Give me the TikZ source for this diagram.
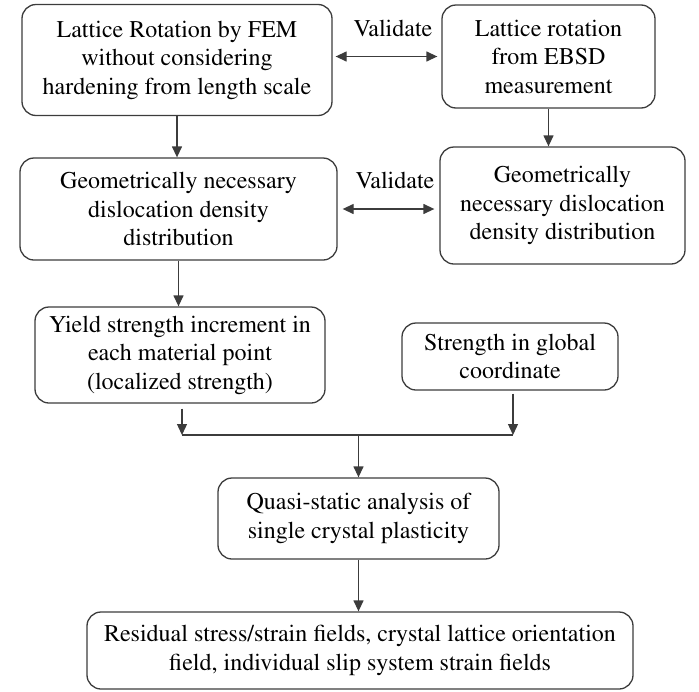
\documentclass[tikz,border=0pt]{standalone}
\usepackage[T1]{fontenc}
\usepackage{times}
\usetikzlibrary{arrows.meta}
\definecolor{inkline}{RGB}{60,60,60}

\begin{document}
\begin{tikzpicture}[x=1pt,y=-1pt,
  box/.style={draw=inkline,line width=1.3pt,rounded corners=14pt,align=center,inner sep=0pt,
    font=\fontsize{24}{28.5}\selectfont},
  lab/.style={font=\fontsize{24}{28.5}\selectfont,inner sep=0pt},
  flow/.style={inkline,line width=1.3pt,-{Triangle[length=11pt,width=10pt]}},
  both/.style={inkline,line width=1.3pt,{Triangle[length=11pt,width=10pt]}-{Triangle[length=11pt,width=10pt]}}]
\useasboundingbox (0,0) rectangle (699,691);
\node[box,minimum width=310pt,minimum height=111pt] (fem) at (177,60)
  {Lattice Rotation by FEM\\without considering\\hardening from length scale};
\node[box,minimum width=213pt,minimum height=103pt] (ebsd) at (548.5,56.5)
  {Lattice rotation\\from EBSD\\measurement};
\node[box,minimum width=317pt,minimum height=102pt] (gndfem) at (178.5,209)
  {Geometrically necessary\\dislocation density\\distribution};
\node[box,minimum width=245pt,minimum height=117pt] (gndebsd) at (562.5,205.5)
  {Geometrically\\necessary dislocation\\density distribution};
\node[box,minimum width=290pt,minimum height=96pt] (yield) at (180,355)
  {Yield strength increment in\\each material point\\(localized strength)};
\node[box,minimum width=216pt,minimum height=67pt] (glob) at (510,356.5)
  {Strength in global\\coordinate};
\node[box,minimum width=281pt,minimum height=81pt] (quasi) at (358.5,518.5)
  {Quasi-static analysis of\\single crystal plasticity};
\node[box,minimum width=546pt,minimum height=77pt] (result) at (360,650.5)
  {Residual stress/strain fields, crystal lattice orientation\\field, individual slip system strain fields};
\node[lab] (val1) at (393,28) {Validate};
\node[lab] (val2) at (395,180) {Validate};
\coordinate (join) at (358.5,435);
\draw[both,shorten <=3pt,shorten >=4pt] (fem.east |- ebsd.west) -- (ebsd.west);
\draw[both,shorten <=5pt,shorten >=5pt] (gndfem.east) -- (gndfem.east -| gndebsd.west);
\draw[flow] (fem.south) -- (fem.south |- gndfem.north);
\draw[flow] (ebsd.south) -- (ebsd.south |- gndebsd.north);
\draw[flow] (gndfem.south) -- (gndfem.south |- yield.north);
\draw[flow,shorten <=5pt] ([xshift=2pt]yield.south) -- ([xshift=2pt]yield.south |- join);
\draw[flow,shorten <=3pt] ([xshift=3pt]glob.south) -- ([xshift=3pt]glob.south |- join);
\draw[inkline,line width=1.3pt] ([xshift=2pt]yield.south |- join) -- ([xshift=3pt]glob.south |- join);
\draw[flow] (join) -- (quasi.north);
\draw[flow] (quasi.south) -- (quasi.south |- result.north);
\end{tikzpicture}
\end{document}
